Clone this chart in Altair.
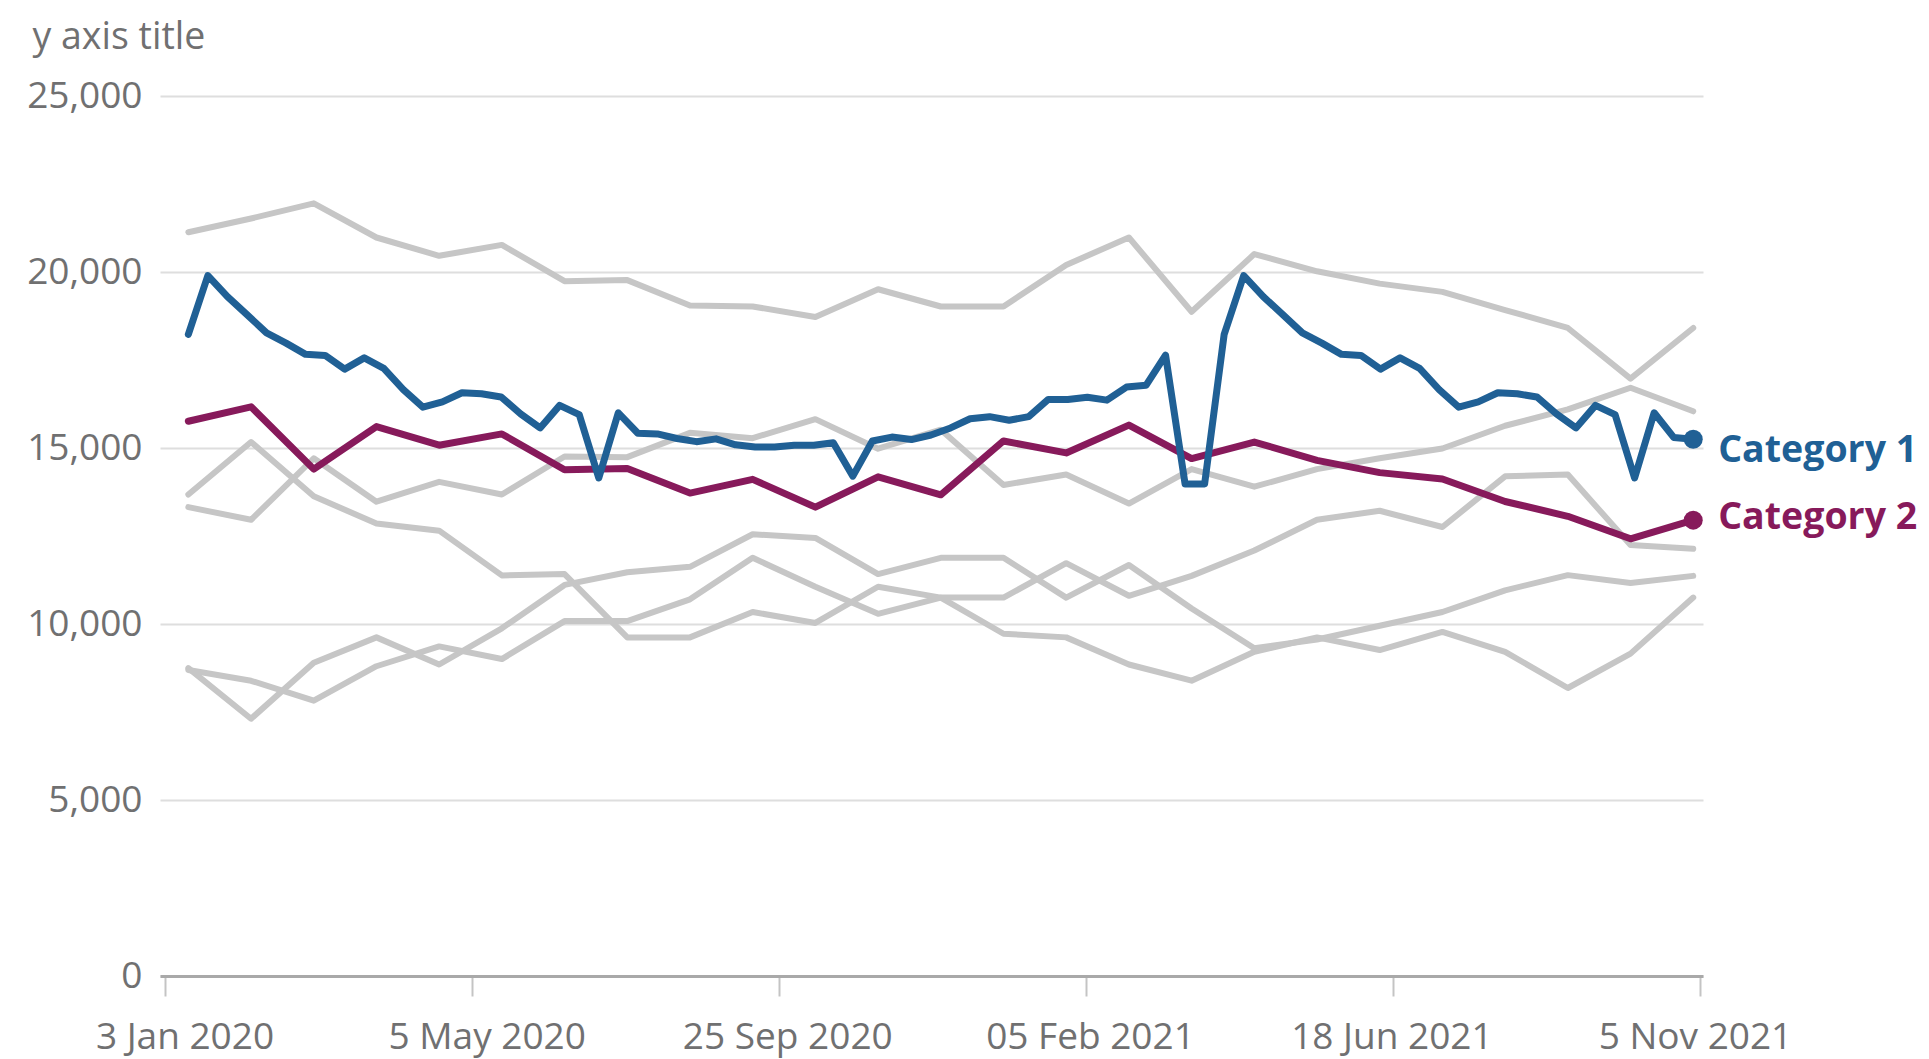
import json
import altair as alt
import pandas as pd

# ---------------- data ----------------
blue_vals = [18230, 19900, 19300, 18790, 18270, 17980, 17660, 17630, 17240, 17560,
             17260, 16660, 16160, 16310, 16570, 16540, 16450, 15970, 15570, 16210,
             15950, 14150, 16000, 15420, 15400, 15270, 15180, 15260, 15090, 15030,
             15030, 15080, 15080, 15150, 14200, 15200, 15310, 15240, 15370, 15570,
             15830, 15890, 15790, 15890, 16380, 16380, 16440, 16360, 16730, 16780,
             17640, 13980, 13980,
             18230, 19900, 19300, 18790, 18270, 17980, 17660, 17630, 17240, 17560,
             17260, 16660, 16160, 16310, 16570, 16540, 16450, 15970, 15570, 16210,
             15950, 14150, 16000, 15300, 15250]

magenta_vals = [15760, 16170, 14400, 15610, 15080, 15400, 14380, 14420, 13720, 14110,
                13320, 14180, 13670, 15200, 14860, 15650, 14700, 15170, 14650, 14300,
                14120, 13480, 13060, 12420, 12950]

grey_g1 = [21130, 21520, 21950, 20980, 20460, 20770, 19740, 19770, 19050, 19020,
           18720, 19510, 19020, 19020, 20200, 20980, 18870, 20510, 20020, 19670,
           19435, 18920, 18410, 16970, 18410]
grey_g2 = [13320, 12960, 14707, 13474, 14039, 13680, 14760, 14740, 15430, 15280,
           15820, 14980, 15520, 13950, 14245, 13423, 14400, 13900, 14400, 14707,
           14985, 15632, 16095, 16711, 16043]
grey_g3 = [13680, 15170, 13628, 12857, 12652, 11380, 11420, 9620, 9620, 10340,
           10030, 11059, 10750, 9723, 9620, 8850, 8390, 9210, 9620, 9260,
           9774, 9209, 8182, 9158, 10750]
grey_g4 = [8747, 7308, 8900, 9620, 8850, 9877, 11110, 11470, 11624, 12549,
           12446, 11419, 11881, 11881, 10750, 11676, 10442, 9312, 9560, 9950,
           10340, 10956, 11388, 11162, 11367]
grey_g5 = [8695, 8387, 7822, 8800, 9363, 9004, 10083, 10083, 10700, 11880,
           11060, 10288, 10750, 10750, 11727, 10802, 11367, 12087, 12960, 13217,
           12755, 14194, 14245, 12241, 12138]

tick_labels = ["3 Jan 2020", "5 May 2020", "25 Sep 2020", "05 Feb 2021", "18 Jun 2021", "5 Nov 2021"]
tick_start, tick_step = -1.2, 15.71
tick_vals = [round(tick_start + tick_step * i, 3) for i in range(len(tick_labels))]
y_ticks = [0, 5000, 10000, 15000, 20000, 25000]

# x positions: weekly-style index for the blue series, monthly series spread over the same span
n_blue = len(blue_vals)
blue_x = list(range(n_blue))
month_x = [k * (n_blue - 1) / (len(magenta_vals) - 1) for k in range(len(magenta_vals))]

grey_rows = []
for name, vals in [("g1", grey_g1), ("g2", grey_g2), ("g3", grey_g3), ("g4", grey_g4), ("g5", grey_g5)]:
    for xv, v in zip(month_x, vals):
        grey_rows.append({"series": name, "x": xv, "value": v})
grey_df = pd.DataFrame(grey_rows)
blue_df = pd.DataFrame({"x": blue_x, "value": blue_vals})
mag_df = pd.DataFrame({"x": month_x, "value": magenta_vals})
end1 = pd.DataFrame({"x": [blue_x[-1]], "value": [blue_vals[-1]], "label": ["Category 1"]})
end2 = pd.DataFrame({"x": [month_x[-1]], "value": [magenta_vals[-1]], "label": ["Category 2"]})

# ---------------- style ----------------
FONT = "Open Sans"
AXIS_GREY = "#707071"
BLUE = "#206095"
MAGENTA = "#871a5b"
GREY = "#c6c6c6"

label_expr = f"{json.dumps(tick_labels)}[round((datum.value - ({tick_start})) / {tick_step})]"

x_enc = alt.X(
    "x:Q",
    scale=alt.Scale(domain=[-1.45, 77.5], nice=False, zero=False),
    axis=alt.Axis(
        values=tick_vals,
        labelExpr=label_expr,
        title=None,
        grid=False,
        labelFont=FONT,
        labelFontSize=37,
        labelColor=AXIS_GREY,
        labelPadding=23,
        labelLimit=600,
        labelFlush=False,
        labelOverlap=False,
        labelBound=False,
        labelOffset={
            "condition": [
                {"test": "datum.value < 5", "value": 19.6},
                {"test": "datum.value < 20", "value": 14.8},
                {"test": "datum.value < 35", "value": 8.3},
                {"test": "datum.value < 50", "value": 4.0},
                {"test": "datum.value < 65", "value": -1.6},
            ],
            "value": -5.1,
        },
        domainColor="#a9a9a9",
        domainWidth=3,
        tickColor="#c4c4c4",
        tickWidth=2,
        tickSize=20,
    ),
)

y_enc = alt.Y(
    "value:Q",
    scale=alt.Scale(domain=[0, 25000], nice=False, zero=True),
    axis=alt.Axis(
        values=y_ticks,
        format=",.0f",
        labelFont=FONT,
        labelFontSize=37,
        labelColor=AXIS_GREY,
        labelPadding=18,
        labelLimit=600,
        ticks=False,
        tickSize=0,
        domain=False,
        grid=True,
        gridColor="#dedede",
        gridWidth=2,
        title="y axis title",
        titleAngle=0,
        titleX=-128,
        titleY=-48,
        titleAlign="left",
        titleBaseline="alphabetic",
        titleFont=FONT,
        titleFontSize=37.5,
        titleFontWeight="normal",
        titleColor=AXIS_GREY,
        titleLimit=600,
    ),
)

grey = alt.Chart(grey_df).mark_line(
    color=GREY, strokeWidth=6, strokeJoin="round", strokeCap="round"
).encode(x=x_enc, y=y_enc, detail="series:N")

mag = alt.Chart(mag_df).mark_line(
    color=MAGENTA, strokeWidth=7, strokeJoin="round", strokeCap="round"
).encode(x=x_enc, y=y_enc)

blue = alt.Chart(blue_df).mark_line(
    color=BLUE, strokeWidth=7, strokeJoin="round", strokeCap="round"
).encode(x=x_enc, y=y_enc)

dot1 = alt.Chart(end1).mark_circle(size=360, opacity=1, color=BLUE).encode(x=x_enc, y=y_enc)
dot2 = alt.Chart(end2).mark_circle(size=360, opacity=1, color=MAGENTA).encode(x=x_enc, y=y_enc)

txt1 = alt.Chart(end1).mark_text(
    align="left", baseline="middle", dx=25, dy=12, font=FONT, fontSize=37.5,
    fontWeight="bold", color=BLUE
).encode(x=x_enc, y=y_enc, text="label:N")
txt2 = alt.Chart(end2).mark_text(
    align="left", baseline="middle", dx=25, dy=-2, font=FONT, fontSize=37.5,
    fontWeight="bold", color=MAGENTA
).encode(x=x_enc, y=y_enc, text="label:N")

chart = alt.layer(grey, mag, blue, dot1, dot2, txt1, txt2).properties(
    width=1543,
    height=880,
    autosize=alt.AutoSizeParams(type="none"),
    padding={"left": 152, "top": 88, "right": 218, "bottom": 84},
).configure_view(stroke=None)

chart.save("out.html", embed_options={"renderer": "svg", "actions": False})
